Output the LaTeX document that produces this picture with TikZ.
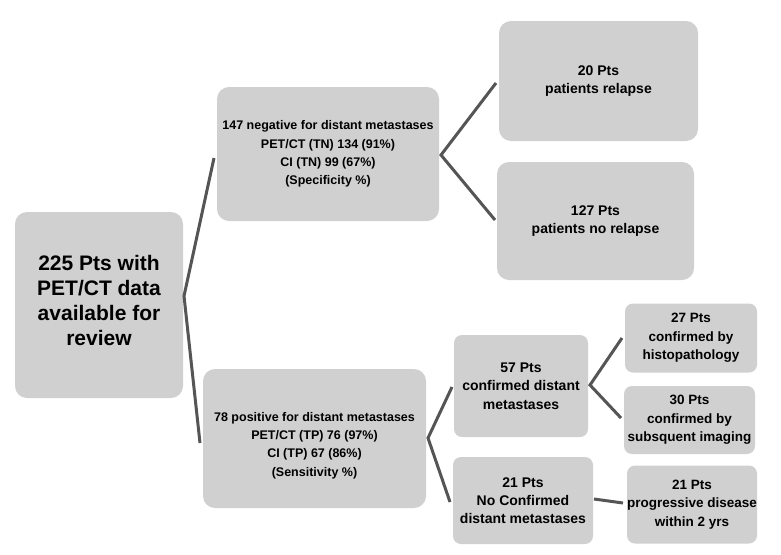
\documentclass[tikz,border=0pt]{standalone}
\usepackage{fontspec}
\setmainfont{Liberation Sans}
\definecolor{boxfill}{HTML}{D0D0D0}
\definecolor{linkcol}{HTML}{555555}
\tikzset{
  box/.style={fill=boxfill, draw=none, inner sep=0pt, align=center, font=\bfseries, text=black},
  bigbox/.style={box, rounded corners=12pt},
  smallbox/.style={box, rounded corners=8pt},
  txt/.style={inner sep=0pt, align=center, text=black},
  link/.style={draw=linkcol, line width=3pt, line join=miter}
}
\begin{document}
\begin{tikzpicture}[x=1pt,y=-1pt]
\path[fill=white] (0,0) rectangle (781,554);
\useasboundingbox (0,0) rectangle (781,554);

\node[bigbox, minimum width=168pt, minimum height=186pt] (root) at (99,305) {};
\node[txt, font=\bfseries\fontsize{21}{25}\selectfont] (rootT) at (99,300)
  {225 Pts with\\PET/CT data\\available for\\review};

\node[bigbox, minimum width=222pt, minimum height=134pt,
  font=\bfseries\fontsize{12.5}{18.3}\selectfont] (neg) at (328,154)
  {147 negative for distant metastases\\PET/CT (TN) 134 (91\%)\\CI (TN) 99 (67\%)\\(Specificity \%)};

\node[bigbox, minimum width=223pt, minimum height=139pt] (pos) at (314.5,438.5) {};
\node[txt, font=\bfseries\fontsize{12.5}{18.3}\selectfont] (posT) at (314.5,445.5)
  {78 positive for distant metastases\\PET/CT (TP) 76 (97\%)\\CI (TP) 67 (86\%)\\(Sensitivity \%)};

\node[bigbox, minimum width=199pt, minimum height=120pt,
  font=\bfseries\fontsize{14}{18.3}\selectfont] (rel) at (598.5,81)
  {20 Pts\\patients relapse};

\node[bigbox, minimum width=197pt, minimum height=118pt,
  font=\bfseries\fontsize{14}{18.3}\selectfont] (norel) at (595.5,221)
  {127 Pts\\patients no relapse};

\node[smallbox, minimum width=134pt, minimum height=102pt,
  font=\bfseries\fontsize{14}{18.3}\selectfont] (c57) at (521,386)
  {57 Pts\\confirmed distant\\metastases};

\node[smallbox, minimum width=140pt, minimum height=87pt,
  font=\bfseries\fontsize{14}{18.3}\selectfont] (n21) at (523,500.5)
  {21 Pts\\No Confirmed\\distant metastases};

\node[smallbox, minimum width=132pt, minimum height=69pt,
  font=\bfseries\fontsize{13.5}{18.3}\selectfont] (h27) at (691,338)
  {27 Pts\\confirmed by\\histopathology};

\node[smallbox, minimum width=131pt, minimum height=68pt,
  font=\bfseries\fontsize{13.5}{18.3}\selectfont] (i30) at (689.5,420)
  {30 Pts\\confirmed by\\subsquent imaging};

\node[smallbox, minimum width=130pt, minimum height=78pt,
  font=\bfseries\fontsize{13.5}{18.3}\selectfont] (p21) at (692,504.5)
  {21 Pts\\progressive disease\\within 2 yrs};

% connector points
\coordinate (ra) at (184,296);
\coordinate (rneg) at (214,158);
\coordinate (rpos) at (200,443);
\coordinate (na) at (441,155);
\coordinate (nrel) at (496,83);
\coordinate (nnorel) at (495,220);
\coordinate (pa) at (428,438);
\coordinate (pc) at (452,387);
\coordinate (pn) at (450,502);
\coordinate (ca) at (590,385);
\coordinate (ch) at (622,338);
\coordinate (ci) at (621,418);
\coordinate (ns) at (594,499);
\coordinate (ne) at (623,503);

\draw[link] (rneg) -- (ra) -- (rpos);
\draw[link] (nrel) -- (na) -- (nnorel);
\draw[link] (pc) -- (pa) -- (pn);
\draw[link] (ch) -- (ca) -- (ci);
\draw[link] (ns) -- (ne);
\end{tikzpicture}
\end{document}
